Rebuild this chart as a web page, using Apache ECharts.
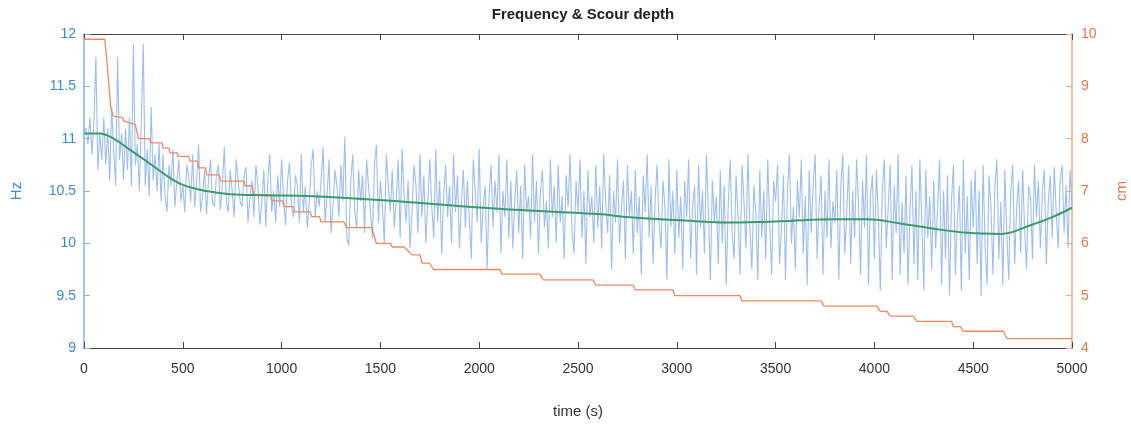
<!DOCTYPE html>
<html>
<head>
<meta charset="utf-8">
<script src="https://cdn.jsdelivr.net/npm/echarts@6/dist/echarts.min.js"></script>
<style>html,body{margin:0;padding:0;background:#fff;}#c{width:1131px;height:426px;}</style>
</head>
<body>
<div id="c"></div>
<script>
// ---- data ----
var xTicks = [0, 500, 1000, 1500, 2000, 2500, 3000, 3500, 4000, 4500, 5000];
var hzTicks = [9, 9.5, 10, 10.5, 11, 11.5, 12];
var cmTicks = [4, 5, 6, 7, 8, 9, 10];

// raw frequency samples (Hz), one every freqStep seconds starting at freqStart
var freqStart = 0;
var freqStep = 10;
var freqRaw = [
11.05,11.10,10.95,11.20,10.85,11.15,11.78,10.70,11.05,10.80,
11.20,10.75,11.10,10.60,11.30,10.90,10.55,11.78,10.80,11.05,
10.60,11.10,10.70,11.20,10.55,11.91,10.75,10.95,10.50,11.15,
11.91,10.55,10.90,10.45,11.30,10.60,10.85,10.50,10.95,10.40,
10.85,10.45,10.30,10.75,10.55,10.90,10.35,10.60,10.80,10.40,
10.55,10.30,10.75,10.65,10.40,10.85,10.35,10.60,10.94,10.30,
10.45,10.70,10.28,10.60,10.80,10.40,10.35,10.65,10.75,10.32,
10.55,10.92,10.40,10.30,10.70,10.50,10.25,10.80,10.60,10.40,
10.35,10.65,10.73,10.20,10.45,10.60,10.25,10.75,10.55,10.18,
10.40,10.70,10.16,10.60,10.85,10.30,10.50,10.20,10.65,10.35,
10.80,10.45,10.17,10.60,10.77,10.35,10.25,10.65,10.55,10.20,
10.85,10.30,10.55,10.15,10.40,10.75,10.90,10.25,10.50,10.35,
10.60,10.92,10.20,10.45,10.80,10.10,10.35,10.70,10.55,10.25,
10.75,10.40,11.02,10.05,9.98,10.60,10.85,10.30,10.15,10.70,
10.40,10.65,10.10,10.80,10.55,10.30,10.05,10.75,10.94,10.20,
10.60,10.35,10.00,10.85,10.55,10.30,10.70,10.15,10.40,10.80,
10.05,10.90,10.45,10.20,10.60,9.95,10.30,10.75,10.55,10.10,
10.85,10.25,10.65,10.00,10.40,10.80,10.35,10.05,10.90,10.20,
10.60,9.90,10.45,10.75,10.25,10.55,10.00,10.85,10.30,10.65,
9.95,10.40,10.70,10.15,10.60,10.25,9.85,10.80,10.50,10.20,
10.90,10.00,10.35,10.55,9.75,10.45,10.75,10.15,10.60,10.30,
10.85,9.90,10.50,10.25,10.80,10.05,10.60,9.95,10.40,10.70,
10.10,10.55,9.85,10.75,10.30,10.45,10.05,10.85,10.20,10.60,
9.90,10.50,10.70,10.15,10.40,9.95,10.80,10.25,10.55,10.00,
10.75,10.20,10.45,9.85,10.65,10.35,10.85,10.10,9.90,10.60,
10.30,10.80,10.05,10.50,9.80,10.70,10.25,10.45,10.00,10.75,
10.15,10.55,9.95,10.85,10.40,10.10,10.65,9.75,10.50,10.20,
10.80,10.00,10.35,10.60,9.85,10.75,10.25,10.50,9.90,10.70,
10.10,10.45,9.70,10.65,10.30,10.85,10.05,10.55,9.80,10.40,
10.75,10.20,9.95,10.60,10.35,9.65,10.80,10.15,10.50,9.90,
10.70,10.05,10.45,9.75,10.60,10.25,10.80,9.85,10.35,10.55,
9.70,10.75,10.15,10.50,9.90,10.85,10.30,9.65,10.60,10.20,
10.45,9.80,10.70,10.00,10.55,9.60,10.35,10.80,10.10,9.85,
10.65,10.25,9.70,10.75,10.40,9.95,10.85,10.15,9.75,10.55,
10.30,9.65,10.70,10.05,10.50,9.85,10.80,10.20,9.70,10.60,
10.40,10.75,9.80,10.15,10.65,9.65,10.50,10.85,10.00,10.35,
9.75,10.60,10.25,10.80,9.90,10.45,9.60,10.70,10.10,10.55,
10.85,9.85,10.35,10.65,9.70,10.50,10.05,10.80,9.95,10.40,
10.20,10.70,9.65,10.55,10.85,9.90,10.30,10.75,9.80,10.50,
10.05,10.80,10.35,9.70,10.60,10.15,10.85,9.60,10.45,10.65,
9.85,10.70,10.25,9.55,10.50,10.80,9.95,10.35,10.75,9.65,
10.55,10.10,10.85,9.70,10.40,9.90,10.65,9.60,10.30,10.75,
9.80,10.50,9.65,10.80,10.20,9.55,10.70,10.05,10.45,9.75,
10.60,9.95,10.35,10.80,9.60,10.50,9.85,10.65,9.50,10.40,
10.75,9.70,10.25,10.55,9.55,10.80,9.90,10.45,9.65,10.60,
10.15,10.70,9.80,10.50,9.50,10.75,10.00,9.60,10.65,10.35,
9.70,10.55,10.80,9.85,10.40,9.60,10.70,10.10,9.65,10.50,
10.75,9.80,10.35,10.60,9.90,10.70,10.15,9.75,10.55,10.45,
9.85,10.75,10.25,10.60,9.95,10.50,10.70,9.80,10.40,10.65,
10.05,10.73,10.30,9.95,10.60,10.75,10.10,10.55,9.95,10.70,
10.35
];

// smoothed frequency (Hz)
var smoothT  = [0, 80, 150, 235, 320, 400, 485, 570, 655, 740, 900, 1160, 1600, 2100, 2600, 2760, 3020, 3270, 3520, 3800, 3960, 4130, 4300, 4470, 4640, 4800, 4900, 5000];
var smoothHz = [11.05, 11.05, 11.0, 10.89, 10.78, 10.67, 10.57, 10.52, 10.49, 10.47, 10.46, 10.45, 10.40, 10.33, 10.28, 10.25, 10.22, 10.20, 10.21, 10.23, 10.23, 10.19, 10.14, 10.10, 10.09, 10.18, 10.25, 10.34];

// scour depth (cm) corner points of the stepped line
var scourT  = [0, 105, 118, 135, 148, 195, 200, 230, 260, 275, 330, 342, 395, 401, 430, 435, 470, 477, 530, 536, 575, 580, 615, 620, 685, 690, 810, 815, 852, 858, 945, 950, 1005, 1012, 1060, 1065, 1145, 1152, 1192, 1200, 1315, 1330, 1455, 1480, 1550, 1560, 1620, 1660, 1700, 1711, 1750, 1768, 2105, 2115, 2308, 2325, 2576, 2590, 2780, 2790, 2980, 2990, 3320, 3330, 3730, 3745, 4013, 4030, 4064, 4080, 4197, 4215, 4390, 4400, 4435, 4450, 4653, 4670, 5000];
var scourCm = [9.9, 9.9, 9.4, 8.6, 8.43, 8.4, 8.34, 8.3, 8.27, 8.0, 8.0, 7.92, 7.92, 7.82, 7.82, 7.73, 7.73, 7.66, 7.66, 7.57, 7.57, 7.44, 7.44, 7.31, 7.31, 7.19, 7.19, 7.1, 7.1, 6.93, 6.93, 6.81, 6.81, 6.7, 6.7, 6.6, 6.6, 6.51, 6.51, 6.41, 6.41, 6.3, 6.3, 6.0, 6.0, 5.93, 5.93, 5.78, 5.78, 5.62, 5.62, 5.5, 5.5, 5.41, 5.41, 5.3, 5.3, 5.2, 5.2, 5.11, 5.11, 5.0, 5.0, 4.9, 4.9, 4.8, 4.8, 4.7, 4.7, 4.61, 4.61, 4.51, 4.51, 4.41, 4.41, 4.32, 4.32, 4.18, 4.18];

// ---- build chart ----
function pairs(xs, ys) { return xs.map(function (x, i) { return [x, ys[i]]; }); }
var freqData = freqRaw.map(function (v, i) { return [freqStart + i * freqStep, v]; });

var FONT = "'Liberation Sans', Arial, Helvetica, sans-serif";
var BLUE_TXT = '#3f8ac6', BLUE_LINE = '#86b4da';
var ORG_TXT = '#e07a4e', ORG_LINE = '#f0a88c';
var DARK = '#333333';

var chart = echarts.init(document.getElementById('c'), null, { renderer: 'canvas' });
chart.setOption({
  animation: false,
  backgroundColor: '#ffffff',
  title: {
    text: 'Frequency & Scour depth',
    left: 578, top: 2, textAlign: 'center',
    textStyle: { fontFamily: FONT, fontSize: 15, fontWeight: 'bold', color: '#222' }
  },
  grid: { left: 84, right: 59, top: 34, bottom: 78, containLabel: false, outerBoundsMode: 'none' },
  xAxis: [{
    type: 'value', min: xTicks[0], max: xTicks[xTicks.length - 1], interval: 500,
    position: 'bottom',
    name: 'time (s)', nameLocation: 'middle', nameGap: 56,
    nameTextStyle: { fontFamily: FONT, fontSize: 15, color: DARK },
    axisLine: { show: true, onZero: false, lineStyle: { color: '#444', width: 1 } },
    axisTick: { show: true, inside: true, length: 6, lineStyle: { color: '#444' } },
    axisLabel: { fontFamily: FONT, fontSize: 14, color: DARK, margin: 14, formatter: function (v) { return String(v); } },
    splitLine: { show: false }
  }, {
    type: 'value', min: xTicks[0], max: xTicks[xTicks.length - 1], interval: 500,
    position: 'top',
    axisLine: { show: true, onZero: false, lineStyle: { color: '#444', width: 1 } },
    axisTick: { show: true, inside: true, length: 6, lineStyle: { color: '#444' } },
    axisLabel: { show: false },
    splitLine: { show: false }
  }],
  yAxis: [{
    type: 'value', min: hzTicks[0], max: hzTicks[hzTicks.length - 1], interval: 0.5,
    position: 'left',
    name: 'Hz', nameLocation: 'middle', nameGap: 60, nameRotate: 90,
    nameTextStyle: { fontFamily: FONT, fontSize: 15, color: BLUE_TXT },
    axisLine: { show: true, onZero: false, lineStyle: { color: BLUE_LINE, width: 1.5 } },
    axisTick: { show: true, inside: true, length: 6, lineStyle: { color: BLUE_LINE } },
    axisLabel: { fontFamily: FONT, fontSize: 14, color: BLUE_TXT, margin: 8 },
    splitLine: { show: false }
  }, {
    type: 'value', min: cmTicks[0], max: cmTicks[cmTicks.length - 1], interval: 1,
    position: 'right',
    name: 'cm', nameLocation: 'middle', nameGap: 42, nameRotate: 90,
    nameTextStyle: { fontFamily: FONT, fontSize: 15, color: ORG_TXT },
    axisLine: { show: true, onZero: false, lineStyle: { color: ORG_LINE, width: 1.5 } },
    axisTick: { show: true, inside: true, length: 6, lineStyle: { color: ORG_LINE } },
    axisLabel: { fontFamily: FONT, fontSize: 14, color: ORG_TXT, margin: 9 },
    splitLine: { show: false }
  }],
  series: [{
    name: 'raw', type: 'line', xAxisIndex: 0, yAxisIndex: 0,
    data: freqData, showSymbol: false, symbol: 'none',
    lineStyle: { color: '#8db4ea', width: 1.1, opacity: 0.85 },
    silent: true, z: 1
  }, {
    name: 'scour', type: 'line', xAxisIndex: 0, yAxisIndex: 1,
    data: pairs(scourT, scourCm), showSymbol: false, symbol: 'none',
    lineStyle: { color: '#e88a66', width: 1.3 },
    silent: true, z: 2
  }, {
    name: 'smooth', type: 'line', xAxisIndex: 0, yAxisIndex: 0,
    data: pairs(smoothT, smoothHz), showSymbol: false, symbol: 'none', smooth: 0.4,
    lineStyle: { color: '#3c9a66', width: 2 },
    silent: true, z: 3
  }]
});
</script>
</body>
</html>
